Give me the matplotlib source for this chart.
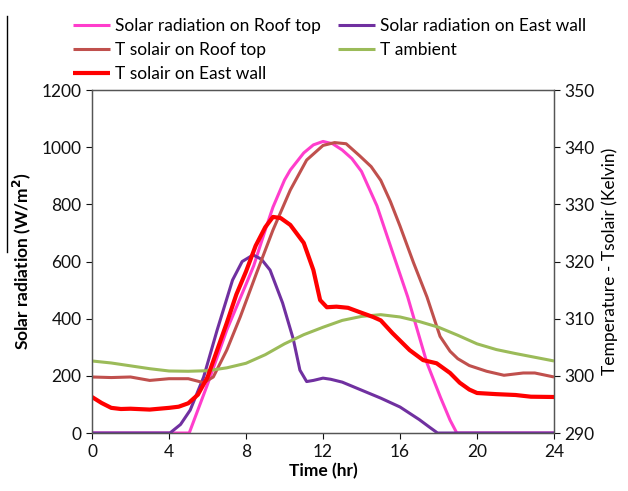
import matplotlib
matplotlib.use("Agg")
import matplotlib.pyplot as plt
from matplotlib.lines import Line2D

# ------------------------------------------------------------------
# Data
# ------------------------------------------------------------------
# Solar radiation on roof top (W/m2)
roof_rad_t = [0, 2, 4, 5.05, 6, 7, 8, 8.4, 9, 9.4, 10, 10.3, 11, 11.5, 12, 12.5, 13, 13.5, 14,
              14.8, 15.6, 16.4, 16.9, 17.4, 18.1, 18.6, 18.95, 20, 22, 24]
roof_rad = [0, 0, 0, 0, 170, 360, 520, 585, 710, 790, 885, 920, 980, 1008, 1020, 1012, 990, 960, 915,
            795, 635, 476, 360, 245, 125, 45, 0, 0, 0, 0]

# Solar radiation on east wall (W/m2)
east_rad_t = [0, 2, 4.05, 4.6, 5.1, 5.8, 6.5, 7.3, 7.8, 8.37, 8.8, 9.25, 9.9, 10.45, 10.8, 11.15,
              11.5, 12, 12.4, 13, 14, 15, 16, 17, 17.5, 17.95, 20, 24]
east_rad = [0, 0, 0, 30, 80, 196, 360, 535, 600, 623, 608, 570, 455, 330, 220, 180,
            184, 192, 188, 178, 150, 122, 91, 47, 22, 0, 0, 0]

# T solair on roof top (K)
roof_t = [0, 1, 2, 3, 4, 5, 5.8, 6.3, 7, 7.7, 8.55, 9.4, 10.3, 11.15, 12, 12.6, 13.2, 13.9, 14.5,
          15.0, 15.5, 16, 16.7, 17.4, 18.08, 18.6, 19, 19.6, 20.5, 21.4, 22.4, 23, 24]
roof_temp = [299.8, 299.7, 299.8, 299.2, 299.5, 299.5, 298.8, 299.8, 304.5, 310.3, 318.0, 325.5, 332.5,
             337.75, 340.3, 340.8, 340.6, 338.5, 336.6, 334.2, 330.5, 326.2, 319.8, 313.8, 306.9, 304.3,
             303.0, 301.8, 300.8, 300.1, 300.5, 300.5, 299.8]

# T ambient (K)
amb_t = list(range(25))
amb_temp = [302.6, 302.25, 301.75, 301.25, 300.85, 300.8, 300.9, 301.4, 302.2, 303.7, 305.6, 307.2,
            308.5, 309.7, 310.4, 310.7, 310.3, 309.5, 308.5, 307.1, 305.6, 304.6, 303.9, 303.25, 302.6]

# T solair on east wall (K)
east_t = [0, 0.5, 1, 1.5, 2, 3, 4, 4.5, 5, 5.5, 6, 6.5, 7, 7.5, 8, 8.5, 9, 9.4, 9.8, 10.3, 11,
          11.5, 11.85, 12.2, 12.7, 13.3, 13.9, 14.6, 15.0, 15.6, 16.5, 17.2, 17.9, 18.6, 19.1, 19.6,
          20, 21, 22, 22.8, 24]
east_temp = [296.3, 295.25, 294.4, 294.2, 294.25, 294.1, 294.4, 294.6, 295.2, 296.7, 299.75, 304.5,
             309.25, 314.25, 318.25, 322.75, 326.0, 327.8, 327.6, 326.4, 323.25, 318.5, 313.25, 312.0,
             312.1, 311.9, 311.15, 310.3, 309.7, 307.5, 304.5, 302.75, 302.2, 300.5, 298.8, 297.6,
             297.0, 296.8, 296.65, 296.35, 296.3]

x_ticks = [0, 4, 8, 12, 16, 20, 24]
left_ticks = [0, 200, 400, 600, 800, 1000, 1200]
right_ticks = [290, 300, 310, 320, 330, 340, 350]

# ------------------------------------------------------------------
# Figure
# ------------------------------------------------------------------
plt.rcParams['font.family'] = ['Lato', 'DejaVu Sans']

fig = plt.figure(figsize=(6.28, 4.91), dpi=100)
ax = fig.add_axes([0.1465, 0.1181, 0.7357, 0.6986])
ax2 = ax.twinx()

c_roof_rad = '#FF3DCC'
c_east_rad = '#7030A0'
c_roof_t = '#C0504D'
c_amb = '#9BBB59'
c_east_t = '#FF0000'

style = dict(solid_joinstyle='round', solid_capstyle='butt')
l1, = ax.plot(roof_rad_t, roof_rad, color=c_roof_rad, lw=2.2, label='Solar radiation on Roof top', **style)
l2, = ax.plot(east_rad_t, east_rad, color=c_east_rad, lw=2.2, label='Solar radiation on East wall', **style)
l3, = ax2.plot(roof_t, roof_temp, color=c_roof_t, lw=2.2, label='T solair on Roof top', **style)
l4, = ax2.plot(amb_t, amb_temp, color=c_amb, lw=2.2, label='T ambient', **style)
l5, = ax2.plot(east_t, east_temp, color=c_east_t, lw=3.0, label='T solair on East wall', **style)

ax.set_xlim(0, 24)
ax.set_ylim(0, 1200)
ax2.set_ylim(290, 350)
ax.set_xticks(x_ticks)
ax.set_yticks(left_ticks)
ax2.set_yticks(right_ticks)

for a in (ax, ax2):
    a.tick_params(direction='out', length=4, width=0.8, labelsize=12.5, colors='#111111')
    for s in a.spines.values():
        s.set_color('#555555')
        s.set_linewidth(0.9)
ax.tick_params(axis='x', pad=4)

ax.set_xlabel('Time (hr)', fontsize=12.5, fontweight='bold', labelpad=2)
ax.set_ylabel('Solar radiation (W/m$^\\mathbf{2}$)', fontsize=12.5, fontweight='bold', labelpad=6)
ax2.set_ylabel('Temperature - Tsolair (Kelvin)', fontsize=12.5, labelpad=5)

handles = [l1, l3, l5, l2, l4]
fig.legend(handles=handles, labels=[h.get_label() for h in handles], ncol=2,
           loc='upper left', bbox_to_anchor=(0.092, 0.995), frameon=False, fontsize=12.5,
           handlelength=2.1, handletextpad=0.3, columnspacing=1.0, labelspacing=0.45)

# stray vertical rule at the top-left edge of the source image
fig.add_artist(Line2D([0.0115, 0.0115], [1 - 16 / 491, 1 - 252 / 491], color='black', lw=1.0))

fig.savefig('out.png', dpi=100)
